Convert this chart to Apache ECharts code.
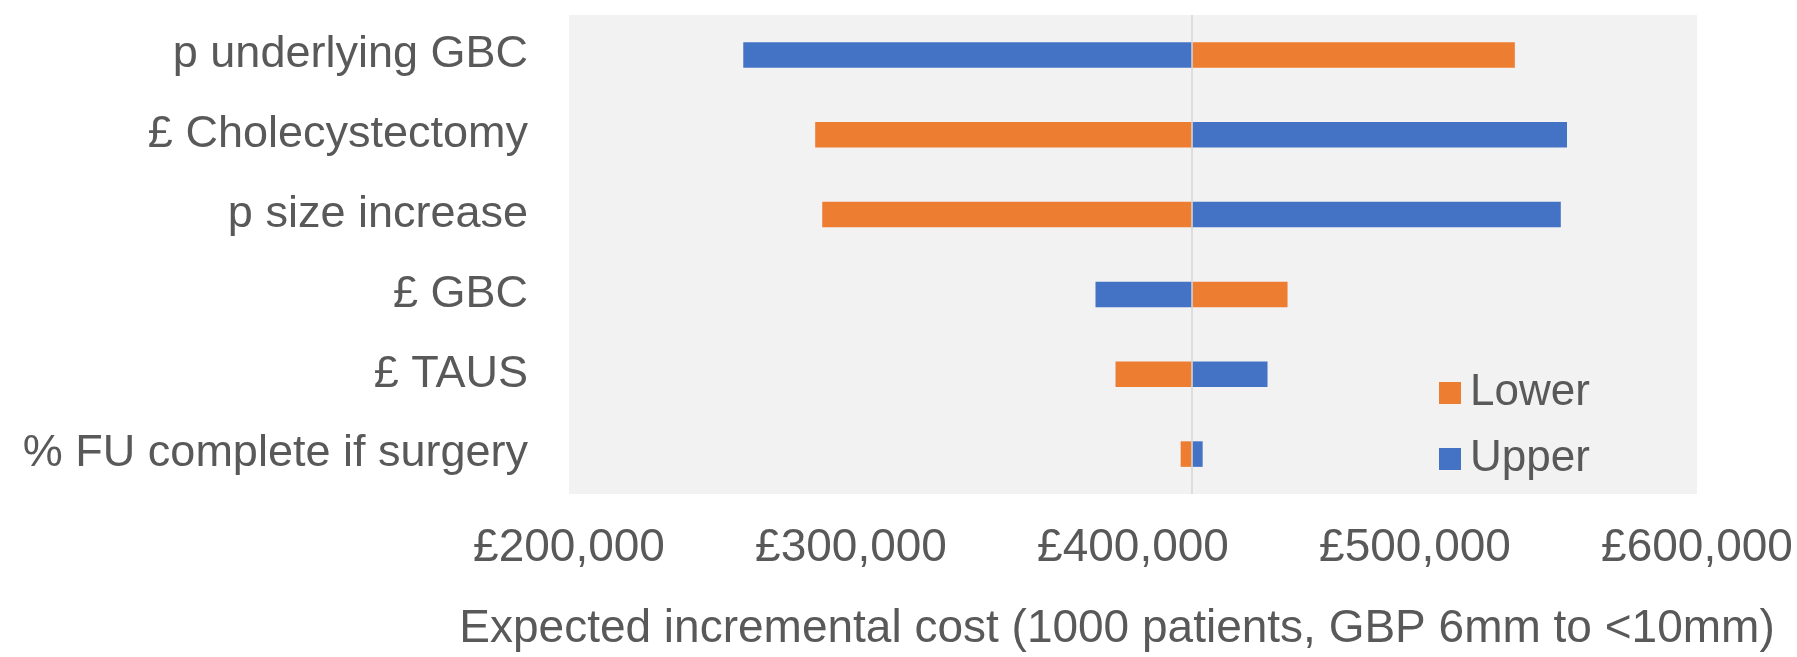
<!DOCTYPE html>
<html>
<head>
<meta charset="utf-8">
<script src="https://cdn.jsdelivr.net/npm/echarts@6/dist/echarts.min.js"></script>
<style>
html, body { margin: 0; padding: 0; background: #ffffff; }
#chart { width: 1797px; height: 657px; }
</style>
</head>
<body>
<div id="chart"></div>
<script>
const categories = ['p underlying GBC', '£ Cholecystectomy', 'p size increase', '£ GBC', '£ TAUS', '% FU complete if surgery'];
const lowerValues = [535400, 287300, 289800, 454800, 393800, 416900];
const upperValues = [261800, 553900, 551700, 386700, 447700, 424700];
const baseValue = 421000;
const axisMin = 200000;
const axisMax = 600000;
const axisStep = 100000;
const axisTitle = 'Expected incremental cost (1000 patients, GBP 6mm to <10mm)';

const FONT = '"Liberation Sans", Arial, sans-serif';
const TEXT_COLOR = '#595959';
const ORANGE = '#ED7D31';
const BLUE = '#4472C4';
const BAR_RATIO = 0.32;

function fmtGBP(v) {
  return '£' + String(Math.round(v)).replace(/\B(?=(\d{3})+(?!\d))/g, ',');
}

function makeRender(color) {
  return function (params, api) {
    const cat = api.value(0);
    const v = api.value(1);
    const p0 = api.coord([baseValue, cat]);
    const p1 = api.coord([v, cat]);
    const h = api.size([0, 1])[1] * BAR_RATIO;
    return {
      type: 'rect',
      shape: { x: Math.min(p0[0], p1[0]), y: p0[1] - h / 2, width: Math.abs(p1[0] - p0[0]), height: h },
      style: { fill: color }
    };
  };
}

const chart = echarts.init(document.getElementById('chart'), null, { renderer: 'canvas' });
chart.setOption({
  animation: false,
  backgroundColor: '#ffffff',
  textStyle: { fontFamily: FONT },
  grid: {
    left: 569, right: 100, top: 15, bottom: 162,
    show: true, backgroundColor: '#F2F2F2', borderWidth: 0
  },
  legend: {
    data: ['Lower', 'Upper'],
    orient: 'vertical',
    left: 1434, top: 366,
    itemWidth: 22, itemHeight: 22, itemGap: 22,
    icon: 'rect',
    textStyle: { fontSize: 44, color: TEXT_COLOR, fontFamily: FONT, padding: [0, 0, 0, 4] }
  },
  xAxis: {
    type: 'value',
    min: axisMin, max: axisMax, interval: axisStep,
    axisLine: { show: false }, axisTick: { show: false }, splitLine: { show: false },
    axisLabel: { fontSize: 46, color: TEXT_COLOR, fontFamily: FONT, margin: 31, formatter: fmtGBP },
    name: axisTitle,
    nameLocation: 'middle',
    nameGap: 112,
    nameTextStyle: { fontSize: 46, color: TEXT_COLOR, fontFamily: FONT, padding: [0, 32, 0, 0] }
  },
  yAxis: {
    type: 'category',
    data: categories,
    inverse: true,
    axisLine: { show: false }, axisTick: { show: false }, splitLine: { show: false },
    axisLabel: { fontSize: 45, color: TEXT_COLOR, fontFamily: FONT, margin: 41 }
  },
  series: [
    {
      name: 'Lower', type: 'custom',
      itemStyle: { color: ORANGE },
      encode: { x: 1, y: 0 },
      renderItem: makeRender(ORANGE),
      data: lowerValues.map((v, i) => [i, v]),
      markLine: {
        silent: true, symbol: 'none', label: { show: false },
        lineStyle: { color: '#D6D6D6', type: 'solid', width: 1.5 },
        data: [{ xAxis: baseValue }]
      }
    },
    {
      name: 'Upper', type: 'custom',
      itemStyle: { color: BLUE },
      encode: { x: 1, y: 0 },
      renderItem: makeRender(BLUE),
      data: upperValues.map((v, i) => [i, v])
    }
  ]
});
</script>
</body>
</html>
